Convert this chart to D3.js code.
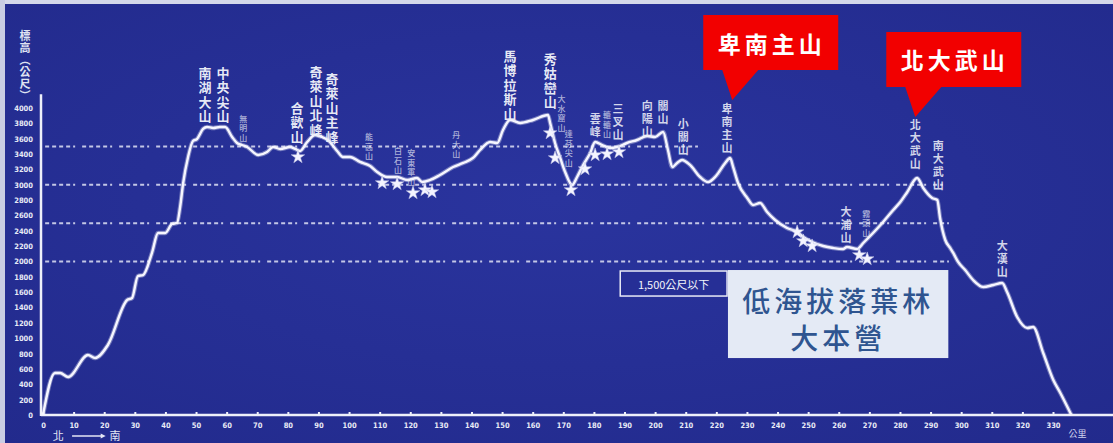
<!DOCTYPE html>
<html><head><meta charset="utf-8">
<script src="https://cdn.jsdelivr.net/npm/d3@7"></script>
<style>
html,body{margin:0;padding:0;background:#252e96;}
svg{display:block;}
</style></head>
<body>
<svg id="chart" width="1113" height="443"></svg>
<script>
// ---------------- data ----------------
const xTicks = [0,10,20,30,40,50,60,70,80,90,100,110,120,130,140,150,160,170,180,190,200,210,220,230,240,250,260,270,280,290,300,310,320,330];
const yTicks = [0,200,400,600,800,1000,1200,1400,1600,1800,2000,2200,2400,2600,2800,3000,3200,3400,3600,3800,4000];

// elevation profile, north (0 km) to south
const profileKm = [0,3.9,5.6,8.2,14.7,17.0,21.2,27.5,29.1,31.0,
  32.7,35.6,37.6,39.9,42.2,43.8,44.8,45.8,47.4,49.0,
  50.3,52.3,53.6,55.6,57.8,59.5,61.8,63.4,65.0,66.7,
  70.3,73.2,75.2,77.5,80.7,82.4,84.0,86.3,88.9,91.2,
  93.1,96.1,98.0,100.3,103.6,106.9,109.2,112.4,115.7,119.0,
  122.2,123.9,126.5,129.7,134.0,137.3,140.5,142.8,146.1,148.4,
  150.3,152.6,155.9,160.1,165.0,165.7,167.3,169.0,170.6,172.9,
  174.5,176.5,178.8,180.4,182.7,185.3,187.6,190.8,194.1,197.4,
  200.0,202.6,204.2,205.6,207.2,208.8,211.4,214.7,217.3,219.9,
  222.9,224.5,225.5,227.1,230.1,232.0,234.3,236.6,239.2,243.1,
  246.4,248.4,251.3,254.9,258.2,261.4,262.7,266.0,268.0,271.2,
  274.5,277.8,280.1,282.4,285.6,287.6,290.5,292.2,293.1,294.8,
  296.4,297.4,299.0,301.3,303.9,307.2,310.5,313.4,315.0,318.3,
  321.6,323.5,326.8,330.1,332.4,336.0];
const profileM = [0,547,547,495,782,743,912,1498,1524,1811,
  1824,2111,2371,2371,2489,2502,2710,3023,3362,3570,
  3596,3727,3753,3740,3753,3753,3622,3544,3518,3492,
  3388,3427,3492,3466,3492,3466,3440,3557,3648,3622,
  3583,3440,3362,3362,3297,3245,3166,3101,3101,3062,
  3088,3036,3062,3127,3231,3284,3349,3453,3557,3544,
  3714,3844,3805,3844,3909,3805,3544,3349,3166,2997,
  3101,3258,3414,3557,3518,3479,3492,3544,3583,3635,
  3622,3688,3453,3231,3284,3323,3258,3101,3036,3114,
  3284,3349,3231,3023,2828,2736,2762,2645,2541,2437,
  2384,2319,2254,2202,2176,2163,2189,2163,2241,2371,
  2515,2671,2775,2906,3088,2958,2828,2801,2567,2280,
  2176,2111,1994,1889,1759,1668,1694,1720,1603,1277,
  1134,1147,808,456,287,0];

// dotted reference levels
const guideLevels = [3500,3000,2500,2000];
const guideEndKm  = [214,294,296,296];

// stars (campsites)
const starKm = [83.3,110.8,115.7,120.9,124.8,127.1,165.7,167.3,172.5,177.1,180.4,184.3,188.2,246.4,248.4,251.3,266.7,269.3];
const starM  = [3362,3023,3010,2893,2932,2906,3674,3349,2932,3205,3388,3401,3427,2384,2267,2202,2085,2033];

// peak name labels: name, km position, elevation of first character
const labelNames = ["南湖大山","中央尖山","合歡山","奇萊山北峰","奇萊山主峰","馬博拉斯山","秀姑巒山",
  "雲峰","三叉山","向陽山","關山","小關山","卑南主山","北大武山","南大武山","大浦山","大漢山",
  "無明山","能高山","白石山","安東軍山","丹大山","大水窟山","達芬尖山","轆轆山","霧頭山"];
const labelKm = [52.9,58.8,83.0,89.2,94.4,152.6,165.7,
  180.4,187.9,197.4,202.6,209.2,223.5,285.0,292.5,262.4,313.4,
  65.4,106.5,116.0,120.3,135.0,169.4,171.8,184.3,269.0];
const labelTopM = [4456,4456,4000,4469,4380,4680,4640,
  3860,3990,4030,4030,3790,3990,3780,3505,2645,2200,
  3860,3620,3440,3414,3648,4117,3661,3909,2620];

// red call-outs
const calloutNames = ["卑南主山","北大武山"];
const calloutKm = [225.2,285.0];
const calloutTipM = [4104,3883];

const noteSmall = "1,500公尺以下";
const noteBig = ["低海拔落葉林","大本營"];

// ---------------- drawing ----------------
const W = 1113, H = 443;
const svg = d3.select("#chart");
const x = d3.scaleLinear().domain([0,330]).range([43,1053]);
const y = d3.scaleLinear().domain([0,4000]).range([415,108]);

const defs = svg.append("defs");
const rg = defs.append("radialGradient").attr("id","bg").attr("cx","50%").attr("cy","45%").attr("r","75%");
rg.append("stop").attr("offset","0%").attr("stop-color","#2a349e");
rg.append("stop").attr("offset","100%").attr("stop-color","#222a8c");
const glow = defs.append("filter").attr("id","glow").attr("x","-5%").attr("y","-5%").attr("width","110%").attr("height","110%");
glow.append("feGaussianBlur").attr("stdDeviation",0.6);

svg.append("rect").attr("width",W).attr("height",H).attr("fill","url(#bg)");
svg.append("rect").attr("width",W).attr("height",4).attr("fill","#d4d8ea");
svg.append("rect").attr("width",5).attr("height",H).attr("fill","#c9cde3");

// dotted guides
svg.append("g").selectAll("line").data(guideLevels).join("line")
  .attr("x1",x(0.7)).attr("x2",(d,i)=>x(guideEndKm[i]))
  .attr("y1",d=>y(d)).attr("y2",d=>y(d))
  .attr("stroke","#dfe2f4").attr("stroke-width",2).attr("stroke-opacity",0.85)
  .attr("stroke-dasharray","4,3,4,3,4,3,4,3,2,7");

// axes
const xAxis = d3.axisBottom(x).tickValues(xTicks).tickSize(-3).tickPadding(8);
const gx = svg.append("g").attr("transform",`translate(0,${y(0)})`).call(xAxis);
gx.select(".domain").remove();
svg.append("line").attr("x1",41).attr("x2",W).attr("y1",y(0)).attr("y2",y(0))
  .attr("stroke","#eef0fa").attr("stroke-width",2.5);
gx.selectAll(".tick line").attr("stroke","#eef0fa").attr("stroke-width",2);
gx.selectAll(".tick text").attr("fill","#e8eaf6")
  .style("font-family","'Liberation Sans Narrow','DejaVu Sans Condensed',sans-serif")
  .style("font-size","7.5px").style("font-weight","700");

const yAxis = d3.axisLeft(y).tickValues(yTicks).tickFormat(d3.format("d")).tickSize(0).tickPadding(8);
const gy = svg.append("g").attr("transform","translate(41,0)").call(yAxis);
gy.select(".domain").remove();
svg.append("line").attr("x1",41).attr("x2",41).attr("y1",y(0)+1).attr("y2",y(4180))
  .attr("stroke","#eef0fa").attr("stroke-width",2.5);
gy.selectAll(".tick text").attr("fill","#e8eaf6")
  .style("font-family","'Liberation Sans Narrow','DejaVu Sans Condensed',sans-serif")
  .style("font-size","7.5px").style("font-weight","700");

// axis captions
svg.append("text").attr("x",25).attr("y",30)
  .style("writing-mode","vertical-rl").style("font-family","'Noto Sans CJK TC',sans-serif")
  .style("font-size","11px").style("font-weight","700").style("letter-spacing","1px")
  .attr("fill","#dfe2f2").text("標高（公尺）");
svg.append("text").attr("x",x(5)).attr("y",440).attr("text-anchor","middle")
  .style("font-family","'Noto Sans CJK TC',sans-serif").style("font-size","11px")
  .attr("fill","#e4e6f4").text("北");
svg.append("line").attr("x1",x(9.5)).attr("x2",x(19.5)).attr("y1",436).attr("y2",436)
  .attr("stroke","#e4e6f4").attr("stroke-width",1.5);
svg.append("path").attr("d",`M${x(19.5)+3},436 l-5,-2.5 l0,5 z`).attr("fill","#e4e6f4");
svg.append("text").attr("x",x(23.5)).attr("y",440).attr("text-anchor","middle")
  .style("font-family","'Noto Sans CJK TC',sans-serif").style("font-size","11px")
  .attr("fill","#e4e6f4").text("南");
svg.append("text").attr("x",x(338)).attr("y",437).attr("text-anchor","middle")
  .style("font-family","'Noto Sans CJK TC',sans-serif").style("font-size","9px")
  .attr("fill","#cfd3ec").text("公里");

// profile line
const pts = profileKm.map((k,i)=>[k,profileM[i]]);
const line = d3.line().x(d=>x(d[0])).y(d=>y(d[1])).curve(d3.curveMonotoneX);
svg.append("path").datum(pts).attr("d",line).attr("fill","none")
  .attr("stroke","#ffffff").attr("stroke-opacity",0.35).attr("stroke-width",4.5).attr("filter","url(#glow)");
svg.append("path").datum(pts).attr("d",line).attr("fill","none")
  .attr("stroke","#f6f6ff").attr("stroke-width",2.4).attr("stroke-linejoin","round");

// stars
const star = d3.symbol().type(d3.symbolStar).size(56);
svg.append("g").selectAll("path").data(starKm).join("path")
  .attr("d",star).attr("transform",(d,i)=>`translate(${x(d)},${y(starM[i])})`)
  .attr("fill","#f4f4ff").attr("stroke","#c8cbea").attr("stroke-width",0.5);

// peak labels (vertical writing)
const bigSet = new Set(["南湖大山","中央尖山","合歡山","奇萊山北峰","奇萊山主峰","馬博拉斯山","秀姑巒山"]);
const midSet = new Set(["雲峰","三叉山","向陽山","關山","小關山","卑南主山","北大武山","南大武山","大浦山","大漢山"]);
const lg = svg.append("g").style("font-family","'Noto Sans CJK TC',sans-serif");
labelNames.forEach((name,i)=>{
  const st = bigSet.has(name) ? {fs:13,step:14.5,w:700,op:0.97}
           : midSet.has(name) ? {fs:11,step:13,w:700,op:0.88}
           : {fs:8,step:9.5,w:500,op:0.7};
  lg.append("text")
    .attr("x",x(labelKm[i])).attr("y",y(labelTopM[i]) - st.fs/2)
    .style("writing-mode","vertical-rl")
    .style("font-size",st.fs+"px").style("font-weight",st.w)
    .style("letter-spacing",(st.step-st.fs)+"px")
    .attr("fill","#eceef8").attr("fill-opacity",st.op)
    .text(name);
});

// red callouts
calloutNames.forEach((name,i)=>{
  const tx = x(calloutKm[i]), ty = y(calloutTipM[i]);
  const bx0 = tx-29, bx1 = tx+106, bb = ty-30, bt = bb-55;
  svg.append("path")
    .attr("d",`M${bx0},${bt} H${bx1} V${bb} H${tx+26} L${tx},${ty} L${tx-10},${bb} H${bx0} Z`)
    .attr("fill","#f20000");
  svg.append("text").attr("x",(bx0+bx1)/2+1).attr("y",(bt+bb)/2).attr("text-anchor","middle")
    .attr("dominant-baseline","central")
    .style("font-family","'Noto Sans CJK TC',sans-serif").style("font-size","23px")
    .style("font-weight","700").style("letter-spacing","4px")
    .attr("fill","#ffffff").text(name);
});

// notes
const nx0 = x(188.6), nx1 = x(223.5), ny0 = y(1876), ny1 = y(1550);
svg.append("rect").attr("x",nx0).attr("y",ny0).attr("width",nx1-nx0).attr("height",ny1-ny0)
  .attr("fill","#262f96").attr("stroke","#e8eaf6").attr("stroke-width",1.5);
svg.append("text").attr("x",(nx0+nx1)/2).attr("y",(ny0+ny1)/2).attr("text-anchor","middle")
  .attr("dominant-baseline","central")
  .style("font-family","'Noto Sans CJK TC',sans-serif").style("font-size","11px")
  .attr("fill","#f2f3fa").text(noteSmall);

const bx0 = x(223.8), bx1 = x(295.8), by0 = y(1889), by1 = y(742);
svg.append("rect").attr("x",bx0).attr("y",by0).attr("width",bx1-bx0).attr("height",by1-by0)
  .attr("fill","#e4eaf5");
noteBig.forEach((s,i)=>{
  svg.append("text").attr("x",(bx0+bx1)/2).attr("y",by0+30+i*37).attr("text-anchor","middle")
    .attr("dominant-baseline","central")
    .style("font-family","'Noto Sans CJK TC',sans-serif").style("font-size","28px")
    .style("font-weight","500").style("letter-spacing","4px")
    .attr("fill","#2f5590").text(s);
});
</script>
</body></html>
